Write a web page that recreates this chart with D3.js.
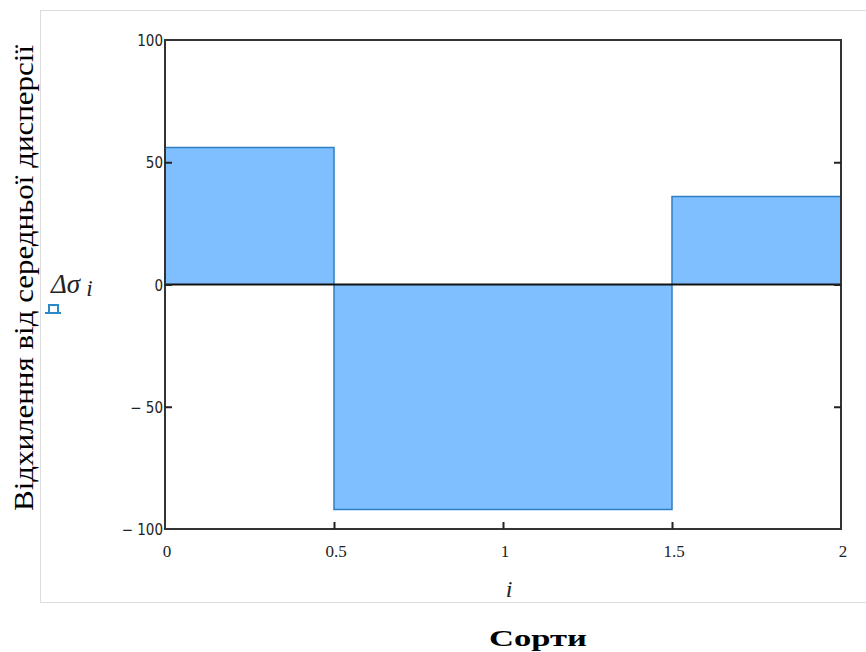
<!DOCTYPE html>
<html>
<head>
<meta charset="utf-8">
<script src="https://cdn.jsdelivr.net/npm/d3@7"></script>
<style>
  body { margin: 0; background: #fff; }
  svg { display: block; }
</style>
</head>
<body>
<div id="chart"></div>
<script>
// data
var sorts = [0, 1, 2];
var deviation = [56, -92, 36];
var xTicks = [0, 0.5, 1, 1.5, 2];
var yTicks = [-100, -50, 0, 50, 100];

var svg = d3.select("#chart").append("svg")
  .attr("width", 866)
  .attr("height", 652);

// plot box (note: "top" is taken by window.top)
var pLeft = 165, pRight = 841, pTop = 40, pBottom = 529;

var x = d3.scaleLinear().domain([0, 2]).range([pLeft, pRight]);
var y = d3.scaleLinear().domain([-100, 100]).range([pBottom, pTop]);

// light frame around the mathcad region
svg.append("rect")
  .attr("x", 40.5).attr("y", 10.5)
  .attr("width", 840).attr("height", 592)
  .attr("fill", "none")
  .attr("stroke", "#dcdcdc")
  .attr("stroke-width", 1);

var pts = sorts.map(function(s, k) { return [s, deviation[k]]; });

svg.append("clipPath").attr("id", "plotclip")
  .append("rect")
  .attr("x", pLeft).attr("y", pTop)
  .attr("width", pRight - pLeft).attr("height", pBottom - pTop);

var area = d3.area()
  .curve(d3.curveStep)
  .x(function(d) { return x(d[0]); })
  .y0(y(0))
  .y1(function(d) { return y(d[1]); });

var line = d3.line()
  .curve(d3.curveStep)
  .x(function(d) { return x(d[0]); })
  .y(function(d) { return y(d[1]); });

var g = svg.append("g").attr("clip-path", "url(#plotclip)");

g.append("path")
  .datum(pts)
  .attr("d", area)
  .attr("fill", "#80bfff");

g.append("path")
  .datum(pts)
  .attr("d", line)
  .attr("fill", "none")
  .attr("stroke", "#2f7fc4")
  .attr("stroke-width", 1.5);

// zero line
svg.append("line")
  .attr("x1", pLeft).attr("x2", pRight)
  .attr("y1", y(0)).attr("y2", y(0))
  .attr("stroke", "#111")
  .attr("stroke-width", 2);

// plot frame
svg.append("rect")
  .attr("x", pLeft).attr("y", pTop)
  .attr("width", pRight - pLeft).attr("height", pBottom - pTop)
  .attr("fill", "none")
  .attr("stroke", "#333")
  .attr("stroke-width", 2);

// axes with inward ticks
var fmt = function(d) { return d < 0 ? "\u2212 " + Math.abs(d) : String(d); };

var yAxisL = svg.append("g")
  .attr("transform", "translate(" + pLeft + ",0)")
  .call(d3.axisRight(y).tickValues(yTicks.slice(1, -1)).tickSize(7).tickFormat(""));
yAxisL.select(".domain").remove();
yAxisL.selectAll("line").attr("stroke", "#222").attr("stroke-width", 2);

var yAxisR = svg.append("g")
  .attr("transform", "translate(" + pRight + ",0)")
  .call(d3.axisLeft(y).tickValues(yTicks.slice(1, -1)).tickSize(7).tickFormat(""));
yAxisR.select(".domain").remove();
yAxisR.selectAll("line").attr("stroke", "#222").attr("stroke-width", 2);

var xAxis = svg.append("g")
  .attr("transform", "translate(0," + pBottom + ")")
  .call(d3.axisTop(x).tickValues(xTicks.slice(1, -1)).tickSize(7).tickFormat(""));
xAxis.select(".domain").remove();
xAxis.selectAll("line").attr("stroke", "#222").attr("stroke-width", 2);

// tick labels
svg.append("g").selectAll("text")
  .data(yTicks)
  .join("text")
  .attr("x", pLeft - 2)
  .attr("y", function(d) { return y(d) + 6; })
  .attr("text-anchor", "end")
  .attr("font-family", "DejaVu Sans Condensed, DejaVu Sans, sans-serif")
  .attr("font-size", 15)
  .attr("fill", "#222")
  .text(fmt);

svg.append("g").selectAll("text")
  .data(xTicks)
  .join("text")
  .attr("x", function(d) { return x(d) + 2; })
  .attr("y", pBottom + 28)
  .attr("text-anchor", "middle")
  .attr("font-family", "Liberation Serif, serif")
  .attr("font-size", 17)
  .attr("fill", "#222")
  .text(function(d) { return String(d); });

// mathcad style axis names
svg.append("text")
  .attr("x", (pLeft + pRight) / 2 + 6)
  .attr("y", 597)
  .attr("text-anchor", "middle")
  .attr("font-family", "Liberation Serif, serif")
  .attr("font-style", "italic")
  .attr("font-size", 24)
  .attr("fill", "#222")
  .text("i");

var sig = svg.append("text")
  .attr("x", 51)
  .attr("y", 293)
  .attr("font-family", "Liberation Serif, serif")
  .attr("font-style", "italic")
  .attr("font-size", 27)
  .attr("fill", "#222");
sig.append("tspan").text("\u0394\u03c3");
sig.append("tspan").attr("dx", 6).attr("dy", 3).attr("font-size", 23).text("i");

// little trace marker
svg.append("path")
  .attr("d", "M45,313 L61,313 M49,312 L49,305 L58,305 L58,312")
  .attr("fill", "none")
  .attr("stroke", "#2a8ac8")
  .attr("stroke-width", 2);

// titles
svg.append("text")
  .attr("transform", "translate(33,278) rotate(-90)")
  .attr("text-anchor", "middle")
  .attr("font-family", "Liberation Serif, serif")
  .attr("font-size", 27)
  .attr("textLength", 466)
  .attr("lengthAdjust", "spacingAndGlyphs")
  .attr("fill", "#000")
  .text("Відхилення від середньої дисперсії");

svg.append("text")
  .attr("x", 538)
  .attr("y", 646)
  .attr("text-anchor", "middle")
  .attr("font-family", "Liberation Serif, serif")
  .attr("font-weight", "bold")
  .attr("font-size", 24)
  .attr("textLength", 98)
  .attr("lengthAdjust", "spacingAndGlyphs")
  .attr("fill", "#000")
  .text("Сорти");
</script>
</body>
</html>
